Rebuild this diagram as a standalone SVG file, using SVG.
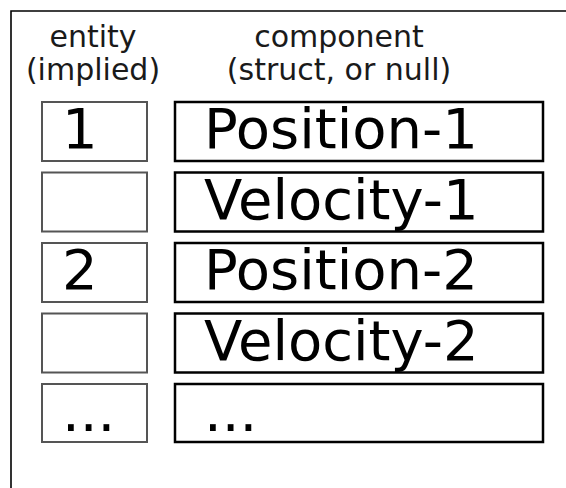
<svg xmlns="http://www.w3.org/2000/svg" width="566" height="488" viewBox="0 0 566 488">
<style>
text{font-family:"DejaVu Sans","Liberation Sans",sans-serif;}
.hdr{font-size:30px;fill:#1a1a1a;text-anchor:middle;}
.big{font-size:56px;fill:#000;}
.ent{fill:#fff;stroke:#555;stroke-width:2;}
.comp{fill:#fff;stroke:#000;stroke-width:2.5;}
</style>
<rect width="566" height="488" fill="#fff"/>
<path d="M11,488 V11 H566" fill="none" stroke="#000" stroke-width="1.6"/>
<g id="header-entity">
<text class="hdr" x="93" y="47">entity</text>
<text class="hdr" x="93" y="80">(implied)</text>
</g>
<g id="header-component">
<text class="hdr" x="339" y="47">component</text>
<text class="hdr" x="339" y="80">(struct, or null)</text>
</g>
<g id="entity-1"><rect class="ent" x="42" y="102" width="105" height="59"/><text class="big" x="62" y="148">1</text></g>
<g id="component-1"><rect class="comp" x="175" y="102" width="368" height="59"/><text class="big" x="204" y="148">Position-1</text></g>
<g id="entity-empty-1"><rect class="ent" x="42" y="172.5" width="105" height="59"/></g>
<g id="component-2"><rect class="comp" x="175" y="172.5" width="368" height="59"/><text class="big" x="204" y="218.5">Velocity-1</text></g>
<g id="entity-2"><rect class="ent" x="42" y="243" width="105" height="59"/><text class="big" x="62" y="289">2</text></g>
<g id="component-3"><rect class="comp" x="175" y="243" width="368" height="59"/><text class="big" x="204" y="289">Position-2</text></g>
<g id="entity-empty-2"><rect class="ent" x="42" y="313.5" width="105" height="59"/></g>
<g id="component-4"><rect class="comp" x="175" y="313.5" width="368" height="59"/><text class="big" x="204" y="359.5">Velocity-2</text></g>
<g id="entity-more"><rect class="ent" x="42" y="384" width="105" height="58"/><text class="big" x="62" y="431">...</text></g>
<g id="component-more"><rect class="comp" x="175" y="384" width="368" height="58"/><text class="big" x="204" y="431">...</text></g>
</svg>
